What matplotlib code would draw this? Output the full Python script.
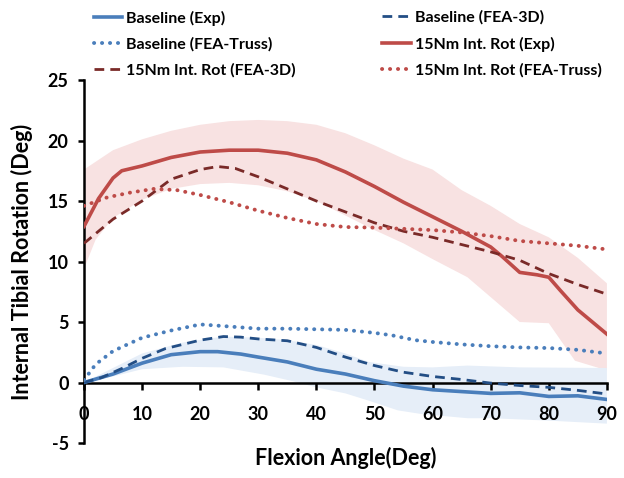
import numpy as np
import matplotlib
matplotlib.use("Agg")
import matplotlib.pyplot as plt

plt.rcParams['font.family'] = ['Lato', 'DejaVu Sans']
plt.rcParams['font.weight'] = 'bold'
plt.rcParams['axes.unicode_minus'] = False

# 15Nm internal rotation, experiment (mean and band)
x_rexp = [0, 2.5, 5, 6.5, 10, 15, 20, 25, 30, 35, 40, 45, 50, 55, 60, 65, 70, 72, 75, 78, 80, 82, 85, 90]
y_rexp = [12.9, 15.2, 16.9, 17.5, 17.9, 18.6, 19.05, 19.2, 19.2, 18.95, 18.4, 17.4, 16.2, 14.9, 13.7, 12.5, 11.2, 10.4, 9.1, 8.9, 8.7, 7.6, 6.0, 4.0]
x_rup = [0, 5, 10, 15, 20, 25, 30, 35, 40, 45, 50, 55, 60, 65, 70, 75, 80, 85, 90]
y_rup = [17.6, 19.2, 20.1, 20.8, 21.3, 21.6, 21.7, 21.6, 21.3, 20.6, 19.6, 18.5, 17.6, 15.9, 14.6, 13.1, 12.0, 10.3, 8.2]
x_rlo = [0, 2, 5, 10, 15, 20, 25, 30, 35, 40, 45, 50, 55, 60, 66, 75, 80, 84.5, 90]
y_rlo = [9.4, 11.8, 13.6, 15.1, 16.0, 16.4, 16.5, 16.3, 15.8, 15.0, 13.8, 12.6, 11.5, 10.2, 8.7, 5.0, 4.9, 1.8, 1.0]

# 15Nm internal rotation, FEA-3D and FEA-Truss
x_r3d = [0, 5, 10, 15, 20, 23, 26, 30, 35, 40, 45, 50, 55, 60, 65, 70, 75, 80, 85, 90]
y_r3d = [11.5, 13.5, 15.0, 16.8, 17.6, 17.85, 17.7, 17.0, 16.0, 15.0, 14.1, 13.2, 12.5, 12.0, 11.4, 10.8, 10.1, 9.0, 8.1, 7.3]
x_rtr = [0, 4, 8, 12, 16, 20, 25, 30, 35, 40, 45, 50, 55, 60, 65, 70, 75, 80, 85, 90]
y_rtr = [14.6, 15.3, 15.7, 16.0, 15.9, 15.5, 14.9, 14.2, 13.6, 13.1, 12.85, 12.8, 12.7, 12.6, 12.4, 12.1, 11.7, 11.5, 11.3, 11.0]

# baseline, experiment (mean and band)
x_bexp = [0, 5, 10, 15, 20, 23, 27, 30, 35, 40, 45, 50, 55, 60, 65, 70, 75, 80, 85, 90]
y_bexp = [0, 0.7, 1.6, 2.3, 2.55, 2.55, 2.35, 2.1, 1.7, 1.1, 0.7, 0.15, -0.3, -0.6, -0.75, -0.9, -0.85, -1.15, -1.1, -1.4]
x_bup = [0, 5, 10, 17, 24, 30, 35, 40, 45, 49, 55, 60, 66, 75, 90]
y_bup = [0, 1.2, 2.4, 3.3, 3.8, 3.7, 3.5, 3.1, 2.4, 1.7, 1.3, 1.25, 1.4, 1.25, 1.2]
x_blo = [0, 5, 10, 17, 24, 31, 36, 40, 45, 49, 54, 58, 66, 70, 80, 90]
y_blo = [0, 0.5, 1.1, 1.3, 1.25, 0.65, 0.1, -0.4, -0.9, -1.5, -2.3, -2.6, -2.95, -2.95, -3.15, -3.4]

# baseline, FEA-3D and FEA-Truss
x_b3d = [0, 3, 6.7, 10, 14, 20, 24, 27, 30, 35, 40, 45, 50, 55, 60, 65, 70, 75, 80, 85, 90]
y_b3d = [0, 0.4, 1.2, 2.0, 2.8, 3.5, 3.8, 3.75, 3.6, 3.45, 2.9, 2.1, 1.4, 0.85, 0.5, 0.25, -0.05, -0.25, -0.4, -0.65, -0.95]
x_btr = [0, 2, 5, 10, 15, 20, 23, 30, 35, 45, 50, 53, 57, 60, 65, 70, 75, 80, 85, 90]
y_btr = [0.2, 1.5, 2.6, 3.7, 4.3, 4.8, 4.7, 4.45, 4.45, 4.35, 4.1, 3.9, 3.5, 3.35, 3.15, 3.0, 2.9, 2.85, 2.7, 2.4]

xticks = [0, 10, 20, 30, 40, 50, 60, 70, 80, 90]
yticks = [-5, 0, 5, 10, 15, 20, 25]

blue = '#4A7EBB'
dblue = '#234E85'
red = '#BE4B48'
dred = '#7A2A28'

fig = plt.figure(figsize=(6.24, 4.78), dpi=100)
ax = fig.add_axes([0.1346, 0.0732, 0.838, 0.7594])

def band(xu, yu, xl, yl, color):
	xs = list(xu) + list(xl)[::-1]
	ys = list(yu) + list(yl)[::-1]
	ax.fill(xs, ys, color=color, lw=0, zorder=1)

band(x_rup, y_rup, x_rlo, y_rlo, '#F8E2E2')
band(x_bup, y_bup, x_blo, y_blo, '#E6EEF8')

dot = (0, (0.05, 2.0))
l_bexp, = ax.plot(x_bexp, y_bexp, color=blue, lw=2.6, zorder=3)
l_b3d, = ax.plot(x_b3d, y_b3d, color=dblue, lw=2, dashes=(3.5, 2.2), zorder=3)
l_btr, = ax.plot(x_btr, y_btr, color=blue, lw=2.8, linestyle=dot, dash_capstyle='round', zorder=3)
l_rexp, = ax.plot(x_rexp, y_rexp, color=red, lw=2.6, zorder=3)
l_r3d, = ax.plot(x_r3d, y_r3d, color=dred, lw=2, dashes=(3.5, 2.2), zorder=3)
l_rtr, = ax.plot(x_rtr, y_rtr, color=red, lw=2.8, linestyle=dot, dash_capstyle='round', zorder=3)

ax.set_xlim(0, 90)
ax.set_ylim(-5, 25)
ax.set_xticks(xticks)
ax.set_yticks(yticks)
ax.spines['top'].set_visible(False)
ax.spines['right'].set_visible(False)
ax.spines['bottom'].set_position(('data', 0))
ax.spines['left'].set_linewidth(1.8)
ax.spines['bottom'].set_linewidth(1.8)
ax.spines['bottom'].set_zorder(2)
ax.tick_params(axis='x', direction='out', length=5, width=1.8, pad=12, labelsize=13)
ax.tick_params(axis='y', direction='out', length=4, width=1.8, pad=7, labelsize=13)
for lab in ax.get_xticklabels() + ax.get_yticklabels():
	lab.set_fontweight('bold')

fig.text(0.035, 0.0732 + 0.7594 / 2, 'Internal Tibial Rotation (Deg)', rotation=90,
	ha='center', va='center', fontsize=15.5, fontweight='bold')
fig.text(0.1346 + 0.838 / 2, 0.042, 'Flexion Angle(Deg)', ha='center', va='center',
	fontsize=15.5, fontweight='bold')

leg_kw = dict(frameon=False, handlelength=1.8, handletextpad=0.25,
	labelspacing=0.72, borderpad=0, borderaxespad=0, prop={'weight': 'bold', 'size': 11.5})
fig.legend([l_bexp, l_btr, l_r3d],
	['Baseline (Exp)', 'Baseline (FEA-Truss)', '15Nm Int. Rot (FEA-3D)'],
	loc='upper left', bbox_to_anchor=(0.15, 0.978), **leg_kw)
fig.legend([l_b3d, l_rexp, l_rtr],
	['Baseline (FEA-3D)', '15Nm Int. Rot (Exp)', '15Nm Int. Rot (FEA-Truss)'],
	loc='upper left', bbox_to_anchor=(0.612, 0.978), **leg_kw)

fig.savefig('out.png', dpi=100)
